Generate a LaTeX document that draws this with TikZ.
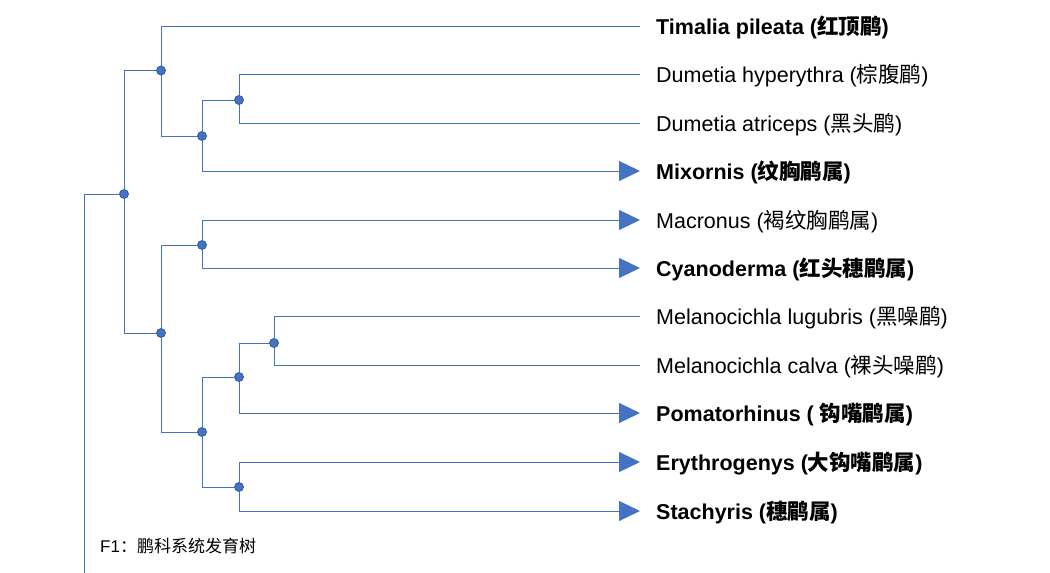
\documentclass[tikz,border=0pt]{standalone}
\usepackage{fontspec}
\setmainfont{Liberation Sans}
\newfontfamily\cjk{Noto Sans CJK SC}
\usetikzlibrary{arrows.meta,backgrounds}
\definecolor{lineblue}{HTML}{4472C4}
\definecolor{dotedge}{HTML}{2F528F}
\begin{document}
\begin{tikzpicture}[x=1pt,y=-1pt,
  branch/.style={draw=lineblue, line width=1pt},
  dot/.style={circle, fill=lineblue, draw=dotedge, line width=0.7pt, inner sep=0pt, minimum size=9pt},
  tip/.style={-{Triangle[length=21pt,width=20pt]}},
  leaf/.style={anchor=base west, inner sep=0pt, font=\fontsize{21.5}{24}\selectfont},
]
\useasboundingbox (0,0) rectangle (1050,573);
% internal nodes
\node[dot] (A) at (124,194) {};
\node[dot] (B) at (161,70.5) {};
\node[dot] (D) at (202,136) {};
\node[dot] (E) at (239,100) {};
\node[dot] (C) at (161,333) {};
\node[dot] (F) at (202,245) {};
\node[dot] (G) at (202,432) {};
\node[dot] (H) at (239,377) {};
\node[dot] (J) at (274,343) {};
\node[dot] (I) at (239,487) {};
\coordinate (R) at (84,573);
% leaf ends
\coordinate (e1) at (640,26);
\coordinate (e2) at (640,74);
\coordinate (e3) at (640,123);
\coordinate (e4) at (640,171);
\coordinate (e5) at (640,220);
\coordinate (e6) at (640,268);
\coordinate (e7) at (640,316);
\coordinate (e8) at (640,365);
\coordinate (e9) at (640,413);
\coordinate (e10) at (640,462);
\coordinate (e11) at (640,511);
% labels
\node[leaf] (t1) at (656,34) {\bfseries Timalia pileata ({\cjk\bfseries 红顶鹛})};
\node[leaf] (t2) at (656,82) {Dumetia hyperythra ({\cjk 棕腹鹛})};
\node[leaf] (t3) at (656,131) {Dumetia atriceps ({\cjk 黑头鹛})};
\node[leaf] (t4) at (656,179) {\bfseries Mixornis ({\cjk\bfseries 纹胸鹛属})};
\node[leaf] (t5) at (656,228) {Macronus ({\cjk 褐纹胸鹛属})};
\node[leaf] (t6) at (656,276) {\bfseries Cyanoderma ({\cjk\bfseries 红头穗鹛属})};
\node[leaf] (t7) at (656,324) {Melanocichla lugubris ({\cjk 黑噪鹛})};
\node[leaf] (t8) at (656,373) {Melanocichla calva ({\cjk 裸头噪鹛})};
\node[leaf] (t9) at (656,421) {\bfseries Pomatorhinus ( {\cjk\bfseries 钩嘴鹛属})};
\node[leaf] (t10) at (656,470) {\bfseries Erythrogenys ({\cjk\bfseries 大钩嘴鹛属})};
\node[leaf] (t11) at (656,519) {\bfseries Stachyris ({\cjk\bfseries 穗鹛属})};
\node[anchor=base west, inner sep=0pt, font=\fontsize{17}{20}\selectfont] (cap) at (100,552) {F1{\cjk ：鹏科系统发育树}};
% connectors
\begin{scope}[on background layer]
\draw[branch] (R) |- (A);
\draw[branch] (A) |- (B);
\draw[branch] (A) |- (C);
\draw[branch] (B) |- (e1);
\draw[branch] (B) |- (D);
\draw[branch] (D) |- (E);
\draw[branch,tip] (D) |- (e4);
\draw[branch] (E) |- (e2);
\draw[branch] (E) |- (e3);
\draw[branch] (C) |- (F);
\draw[branch] (C) |- (G);
\draw[branch,tip] (F) |- (e5);
\draw[branch,tip] (F) |- (e6);
\draw[branch] (G) |- (H);
\draw[branch] (G) |- (I);
\draw[branch] (H) |- (J);
\draw[branch,tip] (H) |- (e9);
\draw[branch] (J) |- (e7);
\draw[branch] (J) |- (e8);
\draw[branch,tip] (I) |- (e10);
\draw[branch,tip] (I) |- (e11);
\end{scope}
\end{tikzpicture}
\end{document}
